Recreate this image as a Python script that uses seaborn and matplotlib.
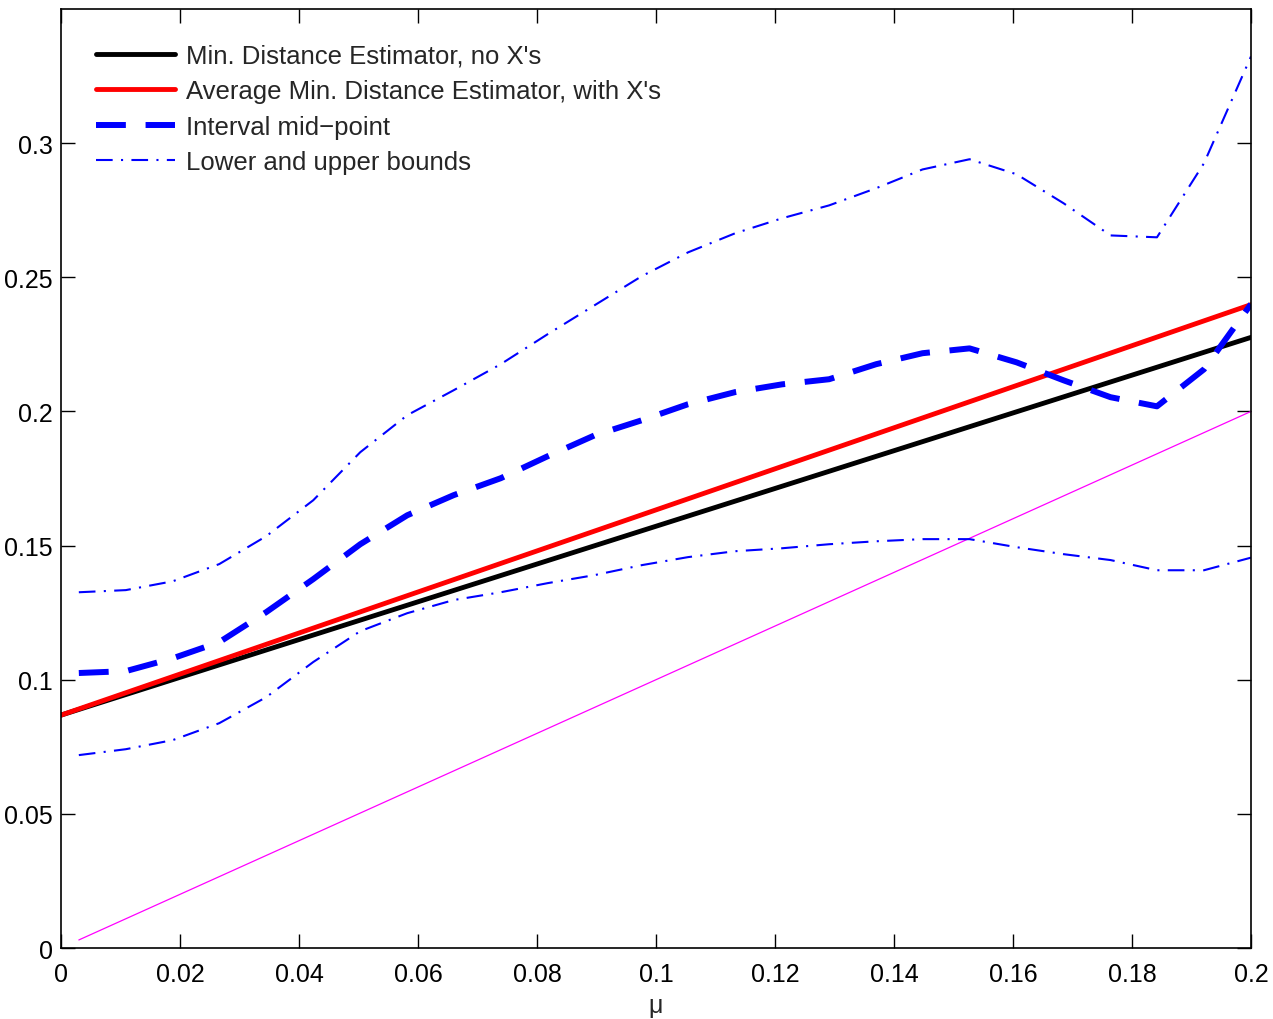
import numpy as np
import pandas as pd
import seaborn as sns
import matplotlib.pyplot as plt
from matplotlib.ticker import FormatStrFormatter, MultipleLocator

# grid of mu values
mu = [0.003, 0.0109, 0.0188, 0.0266, 0.0345, 0.0424, 0.0503, 0.0582, 0.066,
      0.0739, 0.0818, 0.0897, 0.0976, 0.1054, 0.1133, 0.1212, 0.1291, 0.137,
      0.1448, 0.1527, 0.1606, 0.1685, 0.1764, 0.1842, 0.1921, 0.2]

upper = [0.1326, 0.1334, 0.1367, 0.1431, 0.1535, 0.1669, 0.1848, 0.1986, 0.2079,
         0.2176, 0.2288, 0.2396, 0.2504, 0.2593, 0.2664, 0.2720, 0.2768, 0.2832,
         0.2902, 0.2940, 0.2884, 0.2776, 0.2656, 0.2649, 0.2925, 0.3323]

midpoint = [0.1025, 0.1032, 0.1080, 0.1140, 0.1252, 0.1375, 0.1505, 0.1613, 0.1688,
            0.1751, 0.1833, 0.1911, 0.1967, 0.2027, 0.2072, 0.2101, 0.2120, 0.2176,
            0.2217, 0.2235, 0.2183, 0.2116, 0.2053, 0.2019, 0.2157, 0.2400]

lower = [0.0719, 0.0741, 0.0775, 0.0838, 0.0935, 0.1066, 0.1181, 0.1248, 0.1297,
         0.1326, 0.1360, 0.1390, 0.1427, 0.1457, 0.1479, 0.1490, 0.1505, 0.1516,
         0.1524, 0.1524, 0.1494, 0.1468, 0.1446, 0.1408, 0.1408, 0.1455]

# straight lines (end points)
est_x = [0.0, 0.2]
est_no_x = [0.0868, 0.2276]
est_with_x = [0.0868, 0.2398]
diag_x = [0.003, 0.2]
diag_y = [0.003, 0.2]

sns.set_style('ticks')
plt.rcParams['font.family'] = ['Liberation Sans', 'DejaVu Sans']

fig = plt.figure(figsize=(12.73, 10.2), dpi=100, facecolor='white')
ax = fig.add_axes([0.0479, 0.0696, 0.9348, 0.9206])

sns.lineplot(x=diag_x, y=diag_y, color='#ff00ff', linewidth=0.9, ax=ax)
sns.lineplot(x=est_x, y=est_no_x, color='black', linewidth=3.5, ax=ax,
             label='Min. Distance Estimator, no X\'s')
sns.lineplot(x=est_x, y=est_with_x, color='#ff0000', linewidth=3.5, ax=ax,
             label='Average Min. Distance Estimator, with X\'s')
sns.lineplot(x=mu, y=midpoint, color='#0000ff', linewidth=4.3, ax=ax,
             linestyle=(0, (5, 3.3)), label='Interval mid\u2212point')
sns.lineplot(x=mu, y=lower, color='#0000ff', linewidth=1.5, ax=ax,
             linestyle=(0, (8, 4, 1, 4)), label='Lower and upper bounds')
sns.lineplot(x=mu, y=upper, color='#0000ff', linewidth=1.5, ax=ax,
             linestyle=(0, (8, 4, 1, 4)))

ax.set_xlim(0, 0.2)
ax.set_ylim(0, 0.35)
ax.xaxis.set_major_locator(MultipleLocator(0.02))
ax.xaxis.set_major_formatter(FormatStrFormatter('%g'))
ax.yaxis.set_major_formatter(FormatStrFormatter('%g'))
ax.set_yticks([0, 0.05, 0.1, 0.15, 0.2, 0.25, 0.3])
ax.tick_params(direction='in', length=10, width=1, top=True, right=True,
               labelsize=18, colors='black')
ax.tick_params(axis='x', pad=10)
ax.tick_params(axis='y', pad=6)
for s in ax.spines.values():
    s.set_visible(True)
    s.set_linewidth(1.2)
    s.set_color('black')

ax.set_xlabel('\u03bc', fontsize=18, labelpad=5)
ax.set_ylabel('')

leg = ax.legend(loc='upper left', frameon=False, fontsize=18.5, handlelength=3.1,
                handletextpad=0.4, labelspacing=0.45, borderaxespad=0.85,
                borderpad=0.5)

plt.savefig('out.png', dpi=100, facecolor='white')
